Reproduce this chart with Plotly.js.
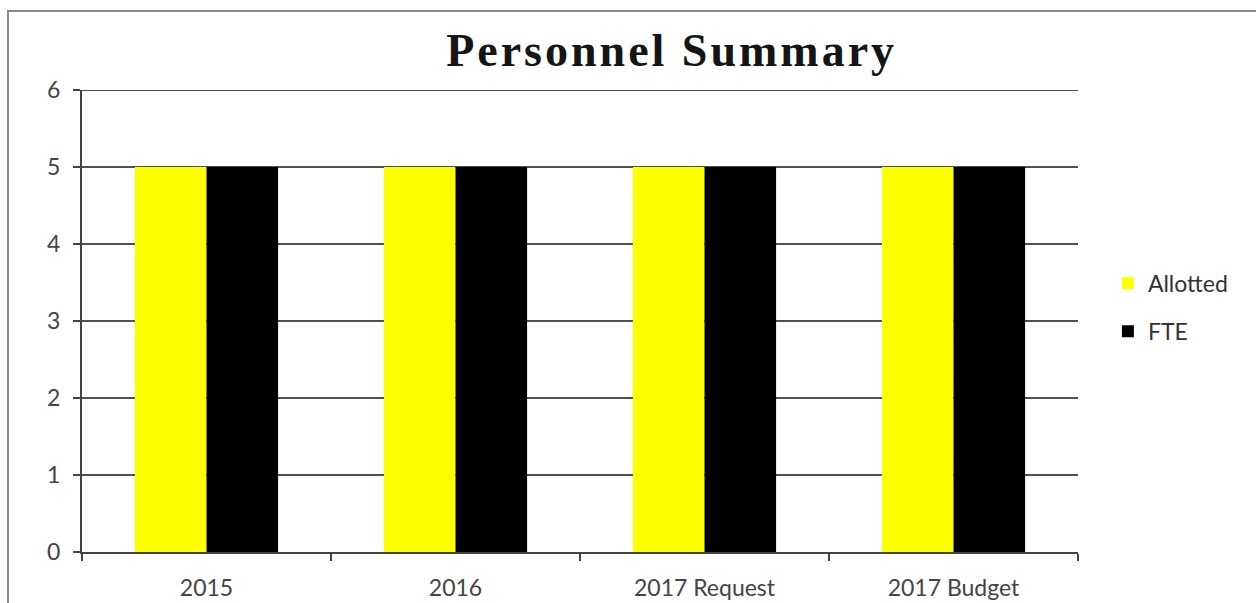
<!DOCTYPE html>
<html>
<head>
<meta charset="utf-8">
<script src="https://cdn.plot.ly/plotly-3.0.1.min.js"></script>
<style>
  html, body { margin: 0; padding: 0; background: #fff; overflow: hidden; }
  #frame { position: absolute; left: 7px; top: 10px; width: 1260px; height: 620px; border: 2px solid #8a8a8a; box-sizing: border-box; pointer-events: none; z-index: 5; }
  #chart { position: absolute; left: 0; top: 0; width: 1256px; height: 603px; }
  .gtitle { letter-spacing: 3px; }
</style>
</head>
<body>
<div id="chart"></div>
<div id="frame"></div>
<script>
const categories = ["2015", "2016", "2017 Request", "2017 Budget"];
const allotted = [5, 5, 5, 5];
const fte = [5, 5, 5, 5];
const yTicks = [0, 1, 2, 3, 4, 5, 6];
const yMax = 6;

const traces = [
  { type: "bar", name: "Allotted", x: categories, y: allotted,
    marker: { color: "#ffff00" }, legendgroup: "a", hoverinfo: "x+y" },
  { type: "bar", name: "FTE", x: categories, y: fte,
    marker: { color: "#000000" }, legendgroup: "b", hoverinfo: "x+y" }
];

const layout = {
  width: 1256, height: 603,
  paper_bgcolor: "#ffffff", plot_bgcolor: "#ffffff",
  margin: { l: 82, r: 178, t: 90, b: 51 },
  barmode: "group", bargap: 0.425, bargroupgap: 0,
  title: {
    text: "<b>Personnel Summary</b>",
    font: { family: "Liberation Serif, DejaVu Serif, serif", size: 46, color: "#151515" },
    xref: "paper", x: 0.592, xanchor: "center",
    yref: "container", y: 0.918, yanchor: "middle"
  },
  font: { family: "Lato, Open Sans, sans-serif", size: 21, color: "#444" },
  xaxis: {
    type: "category",
    tickson: "boundaries",
    ticks: "outside", ticklen: 7, tickcolor: "#444", tickwidth: 2,
    showline: true, linecolor: "#444", linewidth: 2,
    showgrid: false, zeroline: false,
    ticklabelstandoff: 14,
    tickfont: { size: 23, color: "#444" }
  },
  yaxis: {
    range: [0, yMax], tickvals: yTicks, ticktext: yTicks.map(String),
    ticks: "outside", ticklen: 7, tickcolor: "#444", tickwidth: 2,
    showline: true, linecolor: "#444", linewidth: 2,
    showgrid: true, gridcolor: "#505050", gridwidth: 2,
    zeroline: false, ticklabelstandoff: 8,
    tickfont: { size: 23, color: "#444" }
  },
  shapes: [
    { type: "line", xref: "paper", x0: 0, x1: 1, yref: "y", y0: yMax, y1: yMax,
      line: { color: "#505050", width: 2 }, layer: "below" }
  ],
  showlegend: true,
  legend: {
    x: 1.03, xanchor: "left", y: 0.628, yanchor: "top",
    traceorder: "grouped", tracegroupgap: 15,
    font: { size: 23, color: "#333" },
    itemwidth: 30, bgcolor: "rgba(0,0,0,0)"
  }
};

Plotly.newPlot("chart", traces, layout, { displayModeBar: false, staticPlot: true });
</script>
</body>
</html>
